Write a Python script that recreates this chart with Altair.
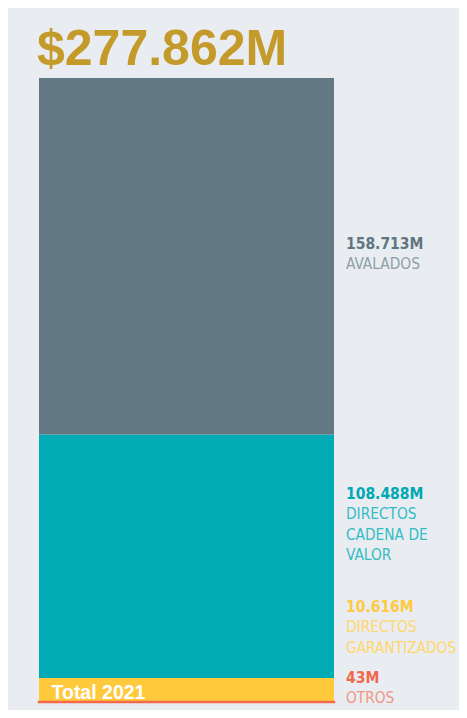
import altair as alt
import pandas as pd

# ---- data ----
categories = ["OTROS", "DIRECTOS GARANTIZADOS", "DIRECTOS CADENA DE VALOR", "AVALADOS"]
values = [0.043, 10.616, 108.488, 158.713]          # millions
value_labels = ["43M", "10.616M", "108.488M", "158.713M"]
name_labels = ["OTROS", "DIRECTOS\nGARANTIZADOS", "DIRECTOS\nCADENA DE\nVALOR", "AVALADOS"]
year_label = "Total 2021"
total_label = "$277.862M"

# ---- style ----
bar_colors = ["#f26a4b", "#ffc93c", "#00abb5", "#627882"]
value_colors = ["#f0674a", "#ffc940", "#00a8b4", "#5f7581"]
name_colors = ["#f39683", "#ffd76a", "#33bcc5", "#8e9fa8"]
label_dy = {"OTROS": -19, "DIRECTOS GARANTIZADOS": -78,
            "DIRECTOS CADENA DE VALOR": -57, "AVALADOS": -7}
gold = "#c49a2b"
bg = "#e9edf1"
COND = "DejaVu Sans Condensed, sans-serif"
SANS = "Liberation Sans, Arial, sans-serif"

total = sum(values)
df = pd.DataFrame({
    "cat": categories,
    "value": values,
    "order": list(range(len(categories))),
    "year": year_label,
    "vlabel": value_labels,
    "nlabel": name_labels,
})

xband = alt.X("year:N", axis=None, scale=alt.Scale(paddingInner=0, paddingOuter=0))
yscale = alt.Scale(domain=[0, total], nice=False, zero=True)

base = alt.Chart(df)

bars = base.mark_bar().encode(
    x=xband,
    y=alt.Y("value:Q", stack="zero", axis=None, scale=yscale),
    color=alt.Color("cat:N", scale=alt.Scale(domain=categories, range=bar_colors), legend=None),
    order=alt.Order("order:Q", sort="ascending"),
)

otros = base.transform_filter(alt.datum.cat == "OTROS").mark_bar(
    fill=bar_colors[0], stroke=bar_colors[0], strokeWidth=2.5
).encode(
    x=xband,
    y=alt.Y("value:Q", axis=None, scale=yscale),
)

lab = base.transform_stack(
    stack="value", groupby=["year"], as_=["y0", "y1"],
    sort=[alt.SortField("order", order="ascending")],
).transform_calculate(mid="(datum.y0 + datum.y1) / 2")

layers = [bars, otros]
for i, c in enumerate(categories):
    sub = lab.transform_filter(alt.datum.cat == c)
    xl = alt.X("year:N", bandPosition=1, axis=None)
    yl = alt.Y("mid:Q", axis=None, scale=yscale)
    layers.append(sub.mark_text(
        align="left", baseline="alphabetic", dx=12, dy=label_dy[c],
        font=COND, fontSize=15.5, fontWeight="bold", color=value_colors[i],
    ).encode(x=xl, y=yl, text="vlabel:N"))
    layers.append(sub.mark_text(
        align="left", baseline="alphabetic", dx=12, dy=label_dy[c] + 20,
        font=COND, fontSize=15.3, lineBreak="\n", lineHeight=20.6, color=name_colors[i],
    ).encode(x=xl, y=yl, text="nlabel:N"))

year_text = alt.Chart(pd.DataFrame({"year": [year_label]})).mark_text(
    align="left", baseline="alphabetic", dx=12.5, dy=-3,
    font=SANS, fontWeight="bold", fontSize=19.5, color="white",
).encode(
    x=alt.X("year:N", bandPosition=0, axis=None),
    y=alt.datum(0),
    text="year:N",
)
layers.append(year_text)

title = alt.Chart(pd.DataFrame({"t": [total_label]})).mark_text(
    align="left", baseline="alphabetic",
    font=SANS, fontWeight="bold", fontSize=50, color=gold,
).encode(x=alt.value(-2), y=alt.value(-13), text="t:N")
layers.append(title)

chart = alt.layer(*layers).properties(
    width=295, height=624,
    autosize=alt.AutoSizeParams(type="none"),
    padding={"left": 31, "top": 70, "right": 125, "bottom": 8},
    background=bg,
).configure_view(stroke=None)

chart.save("out.html", embed_options={"renderer": "svg", "actions": False})
